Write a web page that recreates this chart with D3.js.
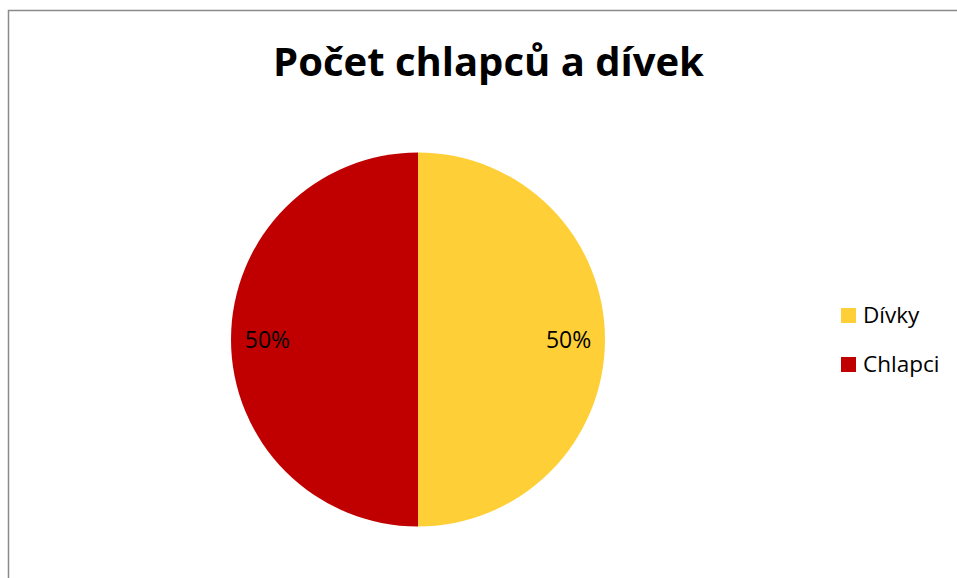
<!DOCTYPE html>
<html>
<head>
<meta charset="utf-8">
<script src="https://cdn.jsdelivr.net/npm/d3@7"></script>
<style>
    body { margin: 0; background: #fff; }
    svg { display: block; }
</style>
</head>
<body>
<div id="chart"></div>
<script>
var categories = ["Dívky", "Chlapci"];
var values = [50, 50];
var colorList = ["#FFCF37", "#C00000"];
var title = "Počet chlapců a dívek";

var w = 957;
var h = 578;
var font = "'Open Sans', 'Liberation Sans', sans-serif";

var svg = d3.select("#chart").append("svg")
    .attr("width", w)
    .attr("height", h);

// frame (only left and top edges visible)
svg.append("path")
    .attr("d", "M8.5," + h + "V10.5H" + w)
    .attr("fill", "none")
    .attr("stroke", "#8a8a8a")
    .attr("stroke-width", 1.5);

svg.append("text")
    .attr("x", 488.5)
    .attr("y", 76)
    .attr("text-anchor", "middle")
    .attr("font-family", font)
    .attr("font-weight", "bold")
    .attr("font-size", "40px")
    .attr("fill", "#000")
    .text(title);

var cx = 418, cy = 339.5, r = 187;
var colors = d3.scaleOrdinal().domain(categories).range(colorList);

var pie = d3.pie().sort(null).value(function (d, i) { return values[i]; });
var arc = d3.arc().innerRadius(0).outerRadius(r);
var total = d3.sum(values);

var arcs = svg.append("g")
    .attr("transform", "translate(" + cx + "," + cy + ")")
    .selectAll("g.arc")
    .data(pie(categories))
    .enter()
    .append("g")
    .attr("class", "arc");

arcs.append("path")
    .attr("d", arc)
    .attr("fill", function (d) { return colors(d.data); });

// labels near the outer edge, like Excel's best fit
var labelArc = d3.arc().innerRadius(r * 0.805).outerRadius(r * 0.805);
arcs.append("text")
    .attr("transform", function (d) {
        var c = labelArc.centroid(d);
        return "translate(" + c[0] + "," + c[1] + ")";
    })
    .attr("dy", "0.35em")
    .attr("text-anchor", "middle")
    .attr("font-family", font)
    .attr("font-size", "23px")
    .attr("fill", "#000")
    .text(function (d) { return Math.round(d.value / total * 100) + "%"; });

// legend
var legend = svg.selectAll(".legend")
    .data(categories)
    .enter()
    .append("g")
    .attr("class", "legend")
    .attr("transform", function (d, i) { return "translate(841," + (308 + i * 49) + ")"; });

legend.append("rect")
    .attr("width", 15)
    .attr("height", 15)
    .attr("fill", function (d) { return colors(d); });

legend.append("text")
    .attr("x", 22)
    .attr("y", 7.5)
    .attr("dy", "0.35em")
    .attr("font-family", font)
    .attr("font-size", "22.5px")
    .attr("fill", "#000")
    .text(function (d) { return d; });
</script>
</body>
</html>
